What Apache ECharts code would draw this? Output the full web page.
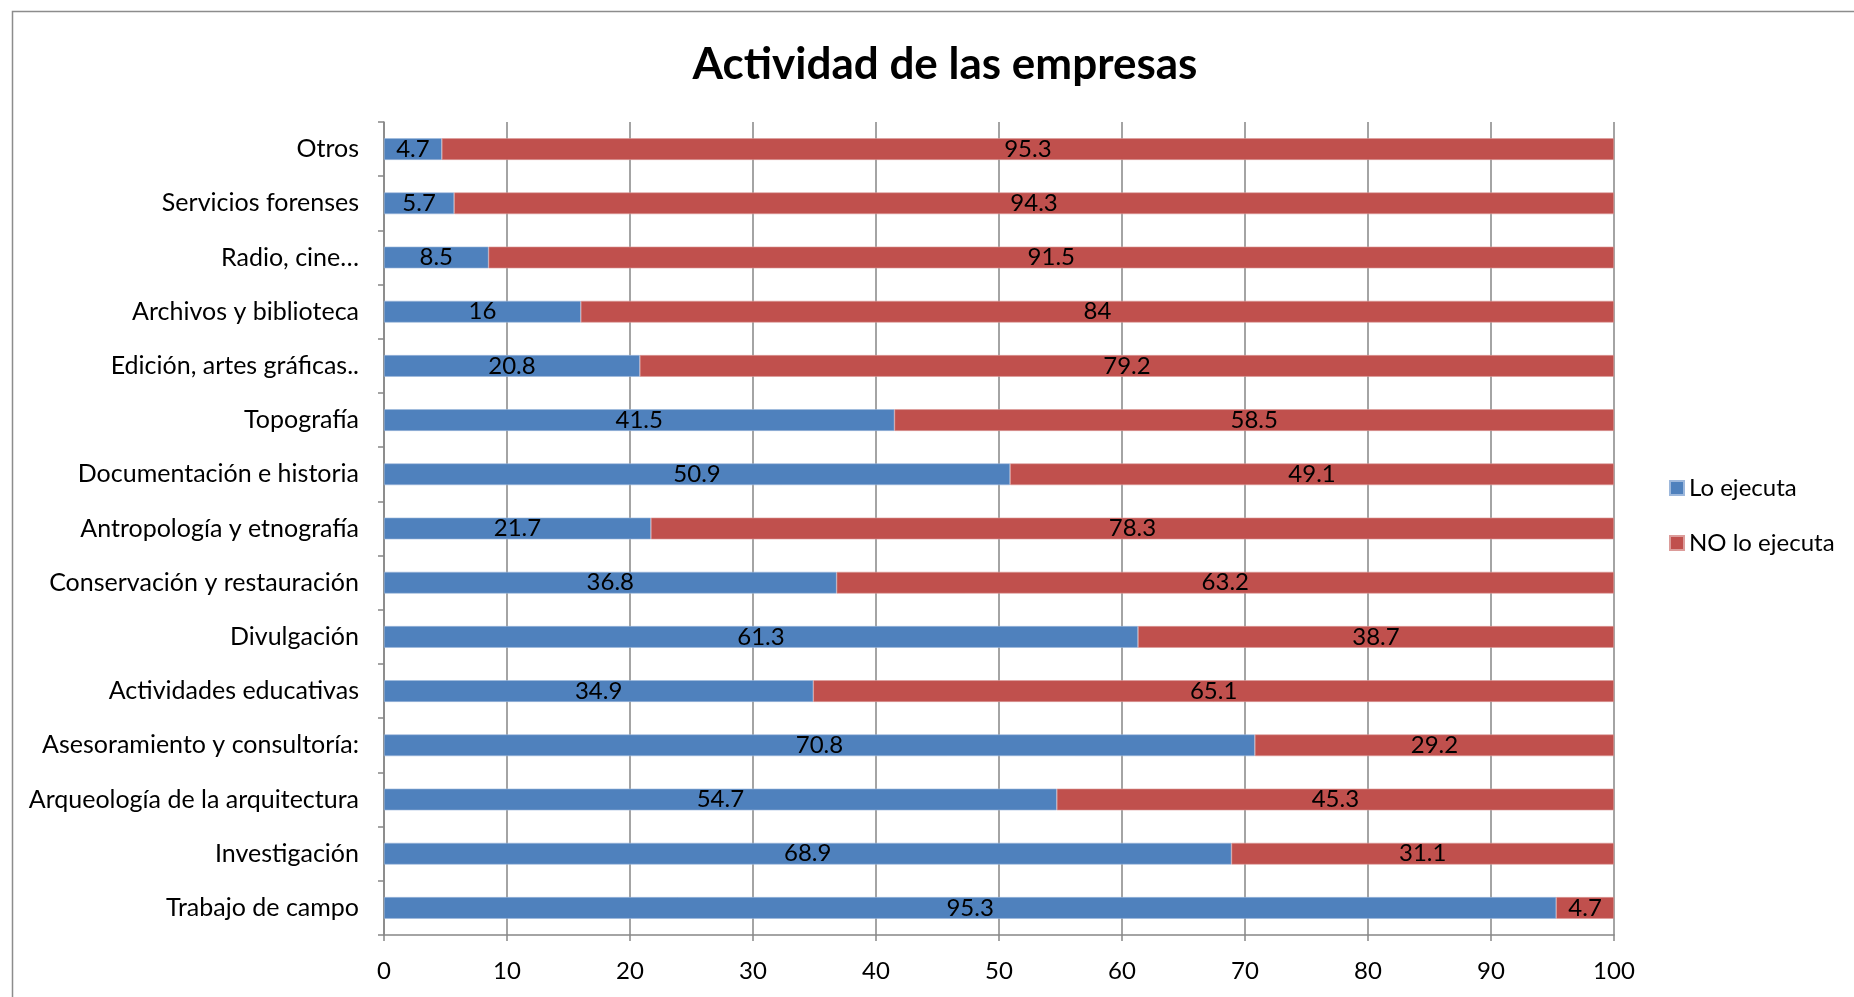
<!DOCTYPE html>
<html>
<head>
<meta charset="utf-8">
<script src="https://cdn.jsdelivr.net/npm/echarts@6/dist/echarts.min.js"></script>
<style>
html,body{margin:0;padding:0;background:#fff;}
#chart{width:1854px;height:997px;}
</style>
</head>
<body>
<div id="chart"></div>
<script>
// Categories bottom-to-top (ECharts category axis starts at bottom)
const categories = [
  "Trabajo de campo",
  "Investigación",
  "Arqueología de la arquitectura",
  "Asesoramiento y consultoría:",
  "Actividades educativas",
  "Divulgación",
  "Conservación y restauración",
  "Antropología y etnografía",
  "Documentación e historia",
  "Topografía",
  "Edición, artes gráficas..",
  "Archivos y biblioteca",
  "Radio, cine…",
  "Servicios forenses",
  "Otros"
];
const loEjecuta = [95.3, 68.9, 54.7, 70.8, 34.9, 61.3, 36.8, 21.7, 50.9, 41.5, 20.8, 16, 8.5, 5.7, 4.7];
const noLoEjecuta = [4.7, 31.1, 45.3, 29.2, 65.1, 38.7, 63.2, 78.3, 49.1, 58.5, 79.2, 84, 91.5, 94.3, 95.3];
const xTicks = [0, 10, 20, 30, 40, 50, 60, 70, 80, 90, 100];

const FONT = 'Lato';
const chart = echarts.init(document.getElementById('chart'));
chart.setOption({
  animation: false,
  backgroundColor: '#ffffff',
  textStyle: { fontFamily: FONT },
  title: {
    text: 'Actividad de las empresas',
    left: 940, top: 38, textAlign: 'center',
    textStyle: { fontFamily: FONT, fontWeight: 'bold', fontSize: 44, color: '#000' }
  },
  graphic: [{
    type: 'rect', silent: true, z: -1,
    shape: { x: 12.5, y: 11.5, width: 1900, height: 1000 },
    style: { fill: 'none', stroke: '#8c8c8c', lineWidth: 1.5 }
  }],
  legend: {
    orient: 'vertical',
    left: 1664, top: 471,
    itemWidth: 14, itemHeight: 14, itemGap: 31,
    icon: 'rect',
    textStyle: { fontFamily: FONT, fontSize: 24, color: '#000' },
    data: ['Lo ejecuta', 'NO lo ejecuta']
  },
  grid: { left: 384, top: 122, right: 240, bottom: 62, containLabel: false },
  xAxis: {
    type: 'value', min: 0, max: 100, interval: 10,
    axisLine: { show: true, lineStyle: { color: '#868686', width: 1.5 } },
    axisTick: { show: true, length: 6, lineStyle: { color: '#868686', width: 1.5 } },
    splitLine: { show: true, lineStyle: { color: '#868686', width: 1.5 } },
    axisLabel: { fontFamily: FONT, fontSize: 24, color: '#000', margin: 24,
      formatter: v => xTicks.includes(v) ? String(v) : '' }
  },
  yAxis: {
    type: 'category', data: categories,
    axisLine: { show: true, lineStyle: { color: '#868686', width: 1.5 } },
    axisTick: { show: true, length: 6, lineStyle: { color: '#868686', width: 1.5 } },
    axisLabel: { fontFamily: FONT, fontSize: 25, color: '#000', margin: 25 }
  },
  series: [
    {
      name: 'Lo ejecuta', type: 'bar', stack: 'total', data: loEjecuta,
      barCategoryGap: '60%',
      itemStyle: { color: '#4F81BD', borderColor: '#9db8dc', borderWidth: 0.6 },
      label: { show: true, position: 'inside', color: '#000', fontFamily: FONT, fontSize: 24 }
    },
    {
      name: 'NO lo ejecuta', type: 'bar', stack: 'total', data: noLoEjecuta,
      barCategoryGap: '60%',
      itemStyle: { color: '#C0504D', borderColor: '#dc9c9a', borderWidth: 0.6 },
      label: { show: true, position: 'inside', color: '#000', fontFamily: FONT, fontSize: 24 }
    }
  ]
});
</script>
</body>
</html>
